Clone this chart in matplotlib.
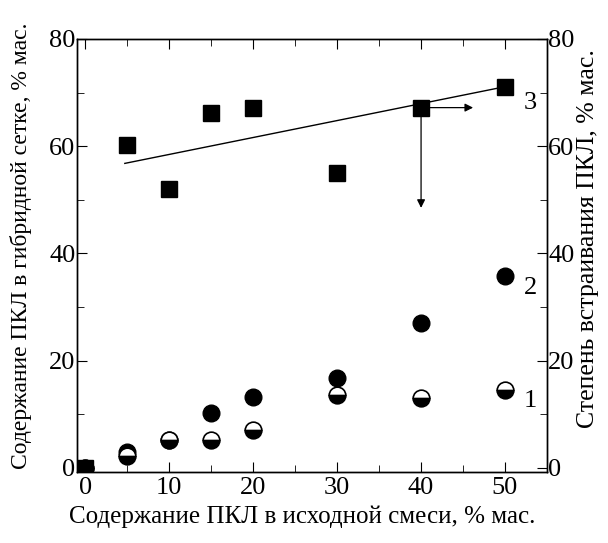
import matplotlib.pyplot as plt
from matplotlib.ticker import MultipleLocator

plt.rcParams['font.family'] = ['Liberation Serif', 'DejaVu Serif']

# Series 1: half-filled circles, series 2: filled circles, series 3: squares
x1 = [0, 5, 10, 15, 20, 30, 40, 50]
y1 = [0, 2.3, 5.2, 5.3, 7.1, 13.6, 13.1, 14.5]
x2 = [0, 5, 10, 15, 20, 30, 40, 50]
y2 = [0, 3.0, 5.3, 10.2, 13.3, 16.7, 27.0, 35.8]
x3 = [0, 5, 10, 15, 20, 30, 40, 50]
y3 = [0, 60.2, 52.0, 66.2, 67.2, 55.1, 67.2, 71.1]
fit_x = [4.7, 50]
fit_y = [56.8, 71.1]

xlabel = 'Содержание ПКЛ в исходной смеси, % мас.'
ylabel_left = 'Содержание ПКЛ в гибридной сетке, % мас.'
ylabel_right = 'Степень встраивания ПКЛ, % мас.'

fig = plt.figure(figsize=(6.08, 5.43), dpi=100)
ax = fig.add_axes([0.1266, 0.1308, 0.773, 0.7974])

ax.plot(fit_x, fit_y, color='black', lw=1.0)
ax.plot(x2, y2, 'o', color='black', ms=12)
ax.plot(x1, y1, 'o', ms=12, fillstyle='bottom', markerfacecolor='black',
        markerfacecoloralt='white', markeredgecolor='black', markeredgewidth=1.2)
ax.plot(x3, y3, 's', color='black', ms=11.5)

# arrows from the point at 40 %
ax.annotate('', xy=(46.2, 67.2), xytext=(41.0, 67.2),
            arrowprops=dict(arrowstyle='-|>', color='black', lw=0.9,
                            mutation_scale=12, shrinkA=0, shrinkB=0))
ax.annotate('', xy=(40, 48.5), xytext=(40, 65.5),
            arrowprops=dict(arrowstyle='-|>', color='black', lw=0.9,
                            mutation_scale=12, shrinkA=0, shrinkB=0))

ax.text(52.2, 68.0, '3', fontsize=19, ha='left', va='center')
ax.text(52.2, 33.5, '2', fontsize=19, ha='left', va='center')
ax.text(52.2, 12.5, '1', fontsize=19, ha='left', va='center')

ax.set_xlim(-1, 55)
ax.set_ylim(-0.75, 80)
ax.xaxis.set_major_locator(MultipleLocator(10))
ax.xaxis.set_minor_locator(MultipleLocator(5))
ax.yaxis.set_major_locator(MultipleLocator(20))
ax.yaxis.set_minor_locator(MultipleLocator(10))
ax.tick_params(which='both', direction='in', top=True, right=False, labelsize=19)
ax.tick_params(which='major', length=7)
ax.tick_params(which='minor', length=5)
ax.tick_params(axis='y', pad=1)
ax.set_xticks([0, 10, 20, 30, 40, 50])
ax.set_xlabel(xlabel, fontsize=18)
ax.xaxis.set_label_coords(0.48, -0.078)
ax.set_ylabel(ylabel_left, fontsize=17)
ax.yaxis.set_label_coords(-0.096, 0.522)

ax2 = ax.twinx()
ax2.set_ylim(ax.get_ylim())
ax2.yaxis.set_major_locator(MultipleLocator(20))
ax2.yaxis.set_minor_locator(MultipleLocator(10))
ax2.tick_params(which='both', direction='in', labelsize=19, pad=1)
ax2.tick_params(which='major', length=7)
ax2.tick_params(which='minor', length=5)
ax2.set_ylabel(ylabel_right, fontsize=18.5)
ax2.yaxis.set_label_coords(1.064, 0.54)
ax2.yaxis.label.set_bbox(dict(facecolor='white', edgecolor='none', pad=2))

for a in (ax, ax2):
    for s in a.spines.values():
        s.set_linewidth(1.0)

fig.savefig('out.png', dpi=100)
